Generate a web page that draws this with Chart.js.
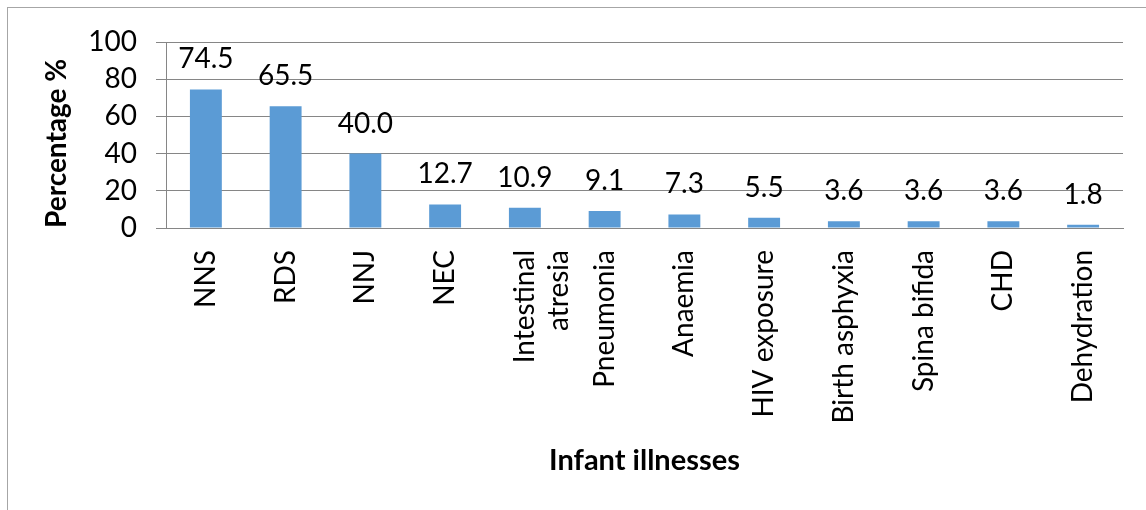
<!DOCTYPE html>
<html>
<head>
  <meta charset="UTF-8">
  <title>Infant illnesses</title>
  <style>
    body {
      margin: 0;
      background: #fff;
    }
    #wrap {
      position: relative;
      width: 1146px;
      height: 510px;
    }
    #frame {
      position: absolute;
      left: 7px;
      top: 7px;
      right: 0;
      bottom: 0;
      border-top: 1px solid #a6a6a6;
      border-left: 1px solid #a6a6a6;
      pointer-events: none;
    }
    #chart {
      position: absolute;
      left: 0;
      top: 0;
    }
  </style>
  <script src="https://cdn.jsdelivr.net/npm/chart.js"></script>
</head>
<body>
  <div id="wrap">
    <canvas id="chart" width="1146" height="510"></canvas>
    <div id="frame"></div>
  </div>
  <script>
    const illnesses = ['NNS', 'RDS', 'NNJ', 'NEC', ['Intestinal', 'atresia'], 'Pneumonia',
      'Anaemia', 'HIV exposure', 'Birth asphyxia', 'Spina bifida', 'CHD', 'Dehydration'];
    const percentages = [74.5, 65.5, 40.0, 12.7, 10.9, 9.1, 7.3, 5.5, 3.6, 3.6, 3.6, 1.8];
    const yTicks = [0, 20, 40, 60, 80, 100];

    const FONT = 'Lato, "Open Sans", sans-serif';

    // value labels above each bar
    const barLabels = {
      id: 'barLabels',
      afterDatasetsDraw(chart) {
        const ctx = chart.ctx;
        const meta = chart.getDatasetMeta(0);
        ctx.save();
        ctx.font = '28px ' + FONT;
        ctx.fillStyle = '#000';
        ctx.textAlign = 'center';
        ctx.textBaseline = 'alphabetic';
        meta.data.forEach((bar, i) => {
          ctx.fillText(percentages[i].toFixed(1), bar.x, bar.y - 21);
        });
        ctx.restore();
      }
    };

    new Chart(document.getElementById('chart'), {
      type: 'bar',
      data: {
        labels: illnesses,
        datasets: [{
          data: percentages,
          backgroundColor: '#5b9bd5',
          borderWidth: 0,
          categoryPercentage: 0.8,
          barPercentage: 0.5
        }]
      },
      options: {
        responsive: false,
        animation: false,
        layout: { padding: { left: 7, top: 42, right: 23, bottom: 0 } },
        plugins: {
          legend: { display: false },
          tooltip: { enabled: false }
        },
        scales: {
          x: {
            afterFit(scale) { scale.height = 282; },
            grid: { display: false, drawTicks: false, tickLength: 0 },
            border: { display: true, color: '#868686', width: 1 },
            ticks: {
              autoSkip: false,
              minRotation: 90,
              maxRotation: 90,
              padding: 22,
              color: '#000',
              font: { family: FONT, size: 28 }
            },
            title: {
              display: true,
              text: 'Infant illnesses',
              color: '#000',
              font: { family: FONT, size: 29, weight: 'bold' },
              padding: { top: 0, bottom: 32 }
            }
          },
          y: {
            min: 0,
            max: 100,
            afterFit(scale) { scale.width = 159; },
            afterBuildTicks(scale) { scale.ticks = yTicks.map(v => ({ value: v })); },
            grid: { color: '#868686', tickLength: 10, drawTicks: true },
            border: { display: true, color: '#868686', width: 1 },
            ticks: {
              padding: 19,
              color: '#000',
              font: { family: FONT, size: 28 }
            },
            title: {
              display: true,
              text: 'Percentage %',
              align: 'start',
              color: '#000',
              font: { family: FONT, size: 28, weight: 'bold' },
              padding: { top: 33, bottom: 0 }
            }
          }
        }
      },
      plugins: [barLabels]
    });
  </script>
</body>
</html>
